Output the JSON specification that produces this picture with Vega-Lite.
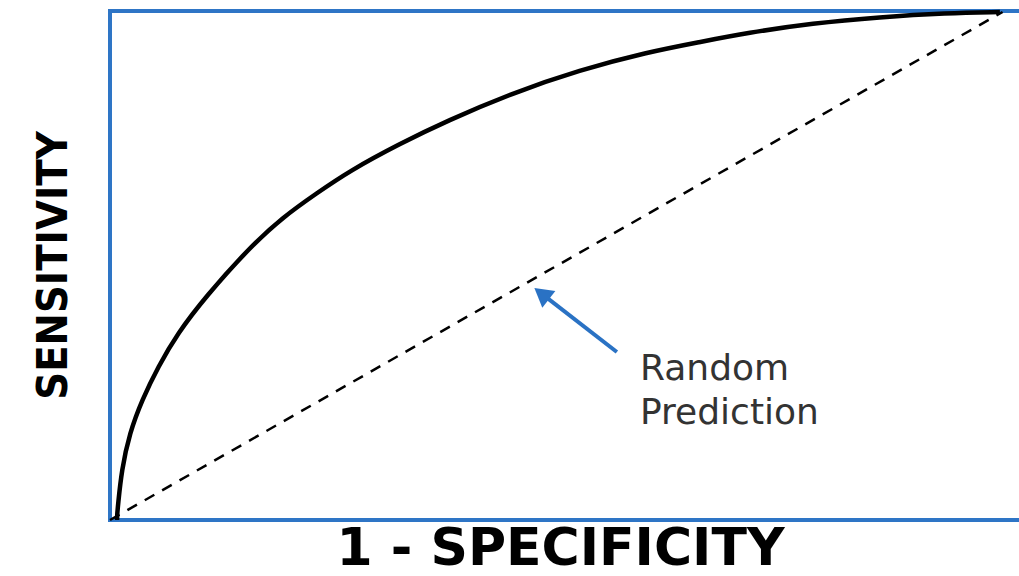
{
  "$schema": "https://vega.github.io/schema/vega-lite/v6.json",
  "autosize": "none",
  "padding": {"left": 110, "top": 11, "right": 0, "bottom": 56},
  "width": 930,
  "height": 509,
  "background": "white",
  "config": {
    "view": {"stroke": "#2e75c6", "strokeWidth": 4},
    "axis": {"domain": false, "ticks": false, "labels": false, "grid": false}
  },
  "datasets": {
    "roc": [
      {"fpr": 0.008, "tpr": 0.0},
      {"fpr": 0.008, "tpr": 0.01},
      {"fpr": 0.009, "tpr": 0.029},
      {"fpr": 0.013, "tpr": 0.098},
      {"fpr": 0.022, "tpr": 0.171},
      {"fpr": 0.036, "tpr": 0.236},
      {"fpr": 0.054, "tpr": 0.301},
      {"fpr": 0.076, "tpr": 0.367},
      {"fpr": 0.107, "tpr": 0.438},
      {"fpr": 0.157, "tpr": 0.536},
      {"fpr": 0.194, "tpr": 0.595},
      {"fpr": 0.232, "tpr": 0.642},
      {"fpr": 0.269, "tpr": 0.686},
      {"fpr": 0.325, "tpr": 0.739},
      {"fpr": 0.378, "tpr": 0.784},
      {"fpr": 0.452, "tpr": 0.839},
      {"fpr": 0.527, "tpr": 0.884},
      {"fpr": 0.603, "tpr": 0.919},
      {"fpr": 0.662, "tpr": 0.939},
      {"fpr": 0.715, "tpr": 0.957},
      {"fpr": 0.789, "tpr": 0.976},
      {"fpr": 0.864, "tpr": 0.988},
      {"fpr": 0.939, "tpr": 0.996},
      {"fpr": 0.999, "tpr": 0.998}
    ],
    "diag": [
      {"fpr": 0.0, "tpr": 0.0},
      {"fpr": 1.002, "tpr": 0.998}
    ],
    "arrow": [
      {"x1": 0.569, "y1": 0.33, "x2": 0.4845, "y2": 0.4446}
    ],
    "labels": [
      {"lx": 0.595, "ly": 0.275, "label": "Random\nPrediction"}
    ]
  },
  "layer": [
    {
      "data": {"name": "roc"},
      "mark": {"type": "line", "interpolate": "basis", "color": "black", "strokeWidth": 4.5},
      "encoding": {
        "x": {
          "field": "fpr", "type": "quantitative",
          "scale": {"domain": [0, 1.044], "nice": false, "zero": false},
          "axis": {
            "title": "1 - SPECIFICITY",
            "titleFont": "DejaVu Sans", "titleFontWeight": "bold", "titleFontSize": 52,
            "titleColor": "black", "titleAnchor": "start", "titleAlign": "center",
            "titleX": 450, "titleY": 44, "titleBaseline": "alphabetic"
          }
        },
        "y": {
          "field": "tpr", "type": "quantitative",
          "scale": {"domain": [0, 1], "nice": false, "zero": false},
          "axis": {
            "title": "SENSITIVITY",
            "titleFont": "DejaVu Sans Condensed", "titleFontWeight": "bold", "titleFontSize": 43,
            "titleColor": "black", "titleAnchor": "start", "titleAlign": "center", "titleAngle": -90,
            "titleX": -44, "titleY": 254, "titleBaseline": "alphabetic"
          }
        }
      }
    },
    {
      "data": {"name": "diag"},
      "mark": {"type": "line", "color": "black", "strokeWidth": 2.5, "strokeDash": [11, 9]},
      "encoding": {
        "x": {"field": "fpr", "type": "quantitative"},
        "y": {"field": "tpr", "type": "quantitative"}
      }
    },
    {
      "data": {"name": "arrow"},
      "mark": {"type": "rule", "color": "#2a72c4", "strokeWidth": 4},
      "encoding": {
        "x": {"field": "x1", "type": "quantitative"},
        "y": {"field": "y1", "type": "quantitative"},
        "x2": {"field": "x2"},
        "y2": {"field": "y2"}
      }
    },
    {
      "data": {"name": "arrow"},
      "mark": {"type": "point", "shape": "triangle-up", "filled": true, "color": "#2a72c4", "opacity": 1, "size": 450, "angle": 308},
      "encoding": {
        "x": {"field": "x2", "type": "quantitative"},
        "y": {"field": "y2", "type": "quantitative"}
      }
    },
    {
      "data": {"name": "labels"},
      "mark": {"type": "text", "align": "left", "baseline": "alphabetic", "lineBreak": "\n", "lineHeight": 44, "font": "DejaVu Sans", "fontSize": 36, "color": "#333333"},
      "encoding": {
        "x": {"field": "lx", "type": "quantitative"},
        "y": {"field": "ly", "type": "quantitative"},
        "text": {"field": "label"}
      }
    }
  ]
}
